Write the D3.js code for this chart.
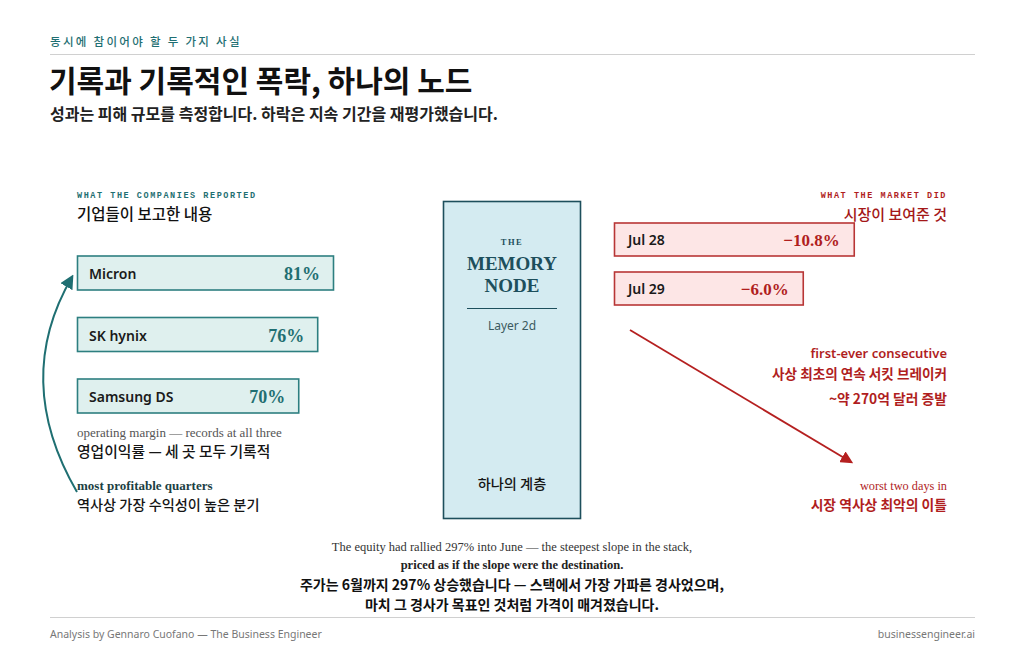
<!DOCTYPE html>
<html><head><meta charset="utf-8">
<script src="https://cdn.jsdelivr.net/npm/d3@7"></script>
<style>
html,body{margin:0;padding:0;background:#fff;}
svg{display:block;}
</style></head>
<body>
<div id="chart"></div>
<script>
const companies = ["Micron", "SK hynix", "Samsung DS"];
const margins = [81, 76, 70];
const marketDays = ["Jul 28", "Jul 29"];
const marketDrops = [10.8, 6.0];

const KR = "'Noto Sans CJK KR','Noto Sans',sans-serif";
const SANS = "'Noto Sans','Open Sans',sans-serif";
const SERIF = "'Liberation Serif','DejaVu Serif',serif";
const MONO = "'Liberation Mono','DejaVu Sans Mono',monospace";
const TEAL = "#1f6f72", TEAL_DARK = "#1d4f5c", RED = "#b01e1e";

const W = 1024, H = 665;
const svg = d3.select("#chart").append("svg").attr("width", W).attr("height", H);

const defs = svg.append("defs");
function marker(id, color){
  defs.append("marker").attr("id", id).attr("viewBox","0 0 10 10").attr("refX",8).attr("refY",5)
    .attr("markerWidth",7).attr("markerHeight",7).attr("orient","auto-start-reverse")
    .append("path").attr("d","M0,0 L10,5 L0,10 z").attr("fill", color);
}
marker("arrT", TEAL); marker("arrR", "#b52020");

function txt(x, y, s, o){
  const t = svg.append("text").attr("x", x).attr("y", y).text(s)
    .attr("font-family", o.f || KR).attr("font-size", o.s || 14)
    .attr("font-weight", o.w || 400).attr("fill", o.c || "#111")
    .attr("text-anchor", o.a || "start");
  if (o.ls) t.attr("letter-spacing", o.ls);
  if (o.st) t.attr("font-style", o.st);
  return t;
}

// Header
txt(50, 46, "동시에 참이어야 할 두 가지 사실", {s:11.5, w:500, c:TEAL, ls:2.3});
svg.append("line").attr("x1",50).attr("x2",975).attr("y1",54.5).attr("y2",54.5).attr("stroke","#d0d0d0");
txt(49, 92, "기록과 기록적인 폭락, 하나의 노드", {s:30, w:700, c:"#111"});
txt(50, 120, "성과는 피해 규모를 측정합니다. 하락은 지속 기간을 재평가했습니다.", {s:16, w:600, c:"#222"});

// Left section
txt(77, 198, "WHAT THE COMPANIES REPORTED", {f:MONO, s:8.5, w:700, c:TEAL, ls:1.55});
txt(77, 220, "기업들이 보고한 내용", {s:15.5, w:500, c:"#111"});

const xL = d3.scaleLinear().domain([0, 81]).range([0, 256]);
const yStep = 61.5;
const gL = svg.append("g");
companies.forEach((c, i) => {
  const y = 256 + i * yStep;
  gL.append("rect").attr("x", 77.5).attr("y", y).attr("width", xL(margins[i])).attr("height", 34)
    .attr("fill", "#dff0ee").attr("stroke", "#2d7f80").attr("stroke-width", 1.6);
  gL.append("text").attr("x", 89).attr("y", y + 23).text(c)
    .attr("font-family", SANS).attr("font-size", 14).attr("font-weight", 600).attr("fill", "#1a1a1a");
  gL.append("text").attr("x", 77 + xL(margins[i]) - 13).attr("y", y + 24).text(margins[i] + "%")
    .attr("text-anchor","end").attr("font-family", SERIF).attr("font-size", 18).attr("font-weight", 700).attr("fill", TEAL);
});

txt(77, 437, "operating margin — records at all three", {f:SERIF, s:13, c:"#555"});
txt(77, 457, "영업이익률 — 세 곳 모두 기록적", {s:14.8, w:500, c:"#151515"});
txt(77, 490, "most profitable quarters", {f:SERIF, s:13, w:700, c:"#1c3f44"});
txt(77, 510, "역사상 가장 수익성이 높은 분기", {s:14.2, w:500, c:"#151515"});

const pL = d3.path();
pL.moveTo(77, 492);
pL.quadraticCurveTo(12, 380, 72, 277);
svg.append("path").attr("d", pL.toString()).attr("fill","none").attr("stroke", TEAL)
  .attr("stroke-width", 2).attr("marker-end", "url(#arrT)");

// Center node
svg.append("rect").attr("x", 443.5).attr("y", 201.5).attr("width", 137).attr("height", 317)
  .attr("fill", "#d4ebf1").attr("stroke", TEAL_DARK).attr("stroke-width", 1.6);
txt(512, 245, "THE", {f:SERIF, s:8.5, w:700, c:TEAL_DARK, a:"middle", ls:1.5});
txt(512, 270, "MEMORY", {f:SERIF, s:19, w:700, c:TEAL_DARK, a:"middle"});
txt(512, 292, "NODE", {f:SERIF, s:19, w:700, c:TEAL_DARK, a:"middle"});
svg.append("line").attr("x1", 467).attr("x2", 557).attr("y1", 308.5).attr("y2", 308.5).attr("stroke", TEAL_DARK).attr("stroke-width", 1.2);
txt(512, 330, "Layer 2d", {f:SANS, s:12, c:"#3c5a60", a:"middle"});
txt(512, 489, "하나의 계층", {s:14.2, w:500, c:"#151515", a:"middle"});

// Right section
txt(947, 198, "WHAT THE MARKET DID", {f:MONO, s:8.5, w:700, c:RED, ls:1.55, a:"end"});
txt(947, 220, "시장이 보여준 것", {s:15, w:500, c:"#a41818", a:"end"});

const xR = d3.scaleLinear().domain([0, 12]).range([125, 252.5]);
const gR = svg.append("g");
marketDays.forEach((d, i) => {
  const y = 223 + i * 49;
  gR.append("rect").attr("x", 614.5).attr("y", y).attr("width", xR(marketDrops[i])).attr("height", 33)
    .attr("fill", "#fde6e6").attr("stroke", "#b83636").attr("stroke-width", 1.6);
  gR.append("text").attr("x", 628).attr("y", y + 22).text(d)
    .attr("font-family", SANS).attr("font-size", 14).attr("font-weight", 600).attr("fill", "#1a1a1a");
  gR.append("text").attr("x", 614 + xR(marketDrops[i]) - 14).attr("y", y + 23).text("−" + marketDrops[i].toFixed(1) + "%")
    .attr("text-anchor","end").attr("font-family", SERIF).attr("font-size", 17).attr("font-weight", 700).attr("fill", RED);
});

svg.append("line").attr("x1", 630).attr("y1", 330).attr("x2", 851).attr("y2", 462)
  .attr("stroke", "#b52020").attr("stroke-width", 1.8).attr("marker-end", "url(#arrR)");

txt(947, 358, "first-ever consecutive", {f:SANS, s:13, w:600, c:RED, a:"end"});
txt(947, 379, "사상 최초의 연속 서킷 브레이커", {s:13.6, w:600, c:RED, a:"end"});
txt(947, 404, "~약 270억 달러 증발", {s:13.8, w:600, c:RED, a:"end"});
txt(947, 490, "worst two days in", {f:SERIF, s:12.3, c:RED, a:"end"});
txt(947, 510, "시장 역사상 최악의 이틀", {s:13.8, w:600, c:RED, a:"end"});

// Bottom caption
txt(512, 551, "The equity had rallied 297% into June — the steepest slope in the stack,", {f:SERIF, s:12.5, c:"#333", a:"middle"});
txt(512, 569, "priced as if the slope were the destination.", {f:SERIF, s:12.5, w:700, c:"#222", a:"middle"});
txt(512, 590, "주가는 6월까지 297% 상승했습니다 — 스택에서 가장 가파른 경사었으며,", {s:14, w:600, c:"#111", a:"middle"});
txt(512, 610, "마치 그 경사가 목표인 것처럼 가격이 매겨졌습니다.", {s:14, w:600, c:"#111", a:"middle"});

// Footer
svg.append("line").attr("x1",50).attr("x2",975).attr("y1",617.5).attr("y2",617.5).attr("stroke","#d0d0d0");
txt(50, 638, "Analysis by Gennaro Cuofano — The Business Engineer", {f:SANS, s:10.5, c:"#777"});
txt(975, 638, "businessengineer.ai", {f:SANS, s:10.5, c:"#777", a:"end"});
</script>
</body></html>
